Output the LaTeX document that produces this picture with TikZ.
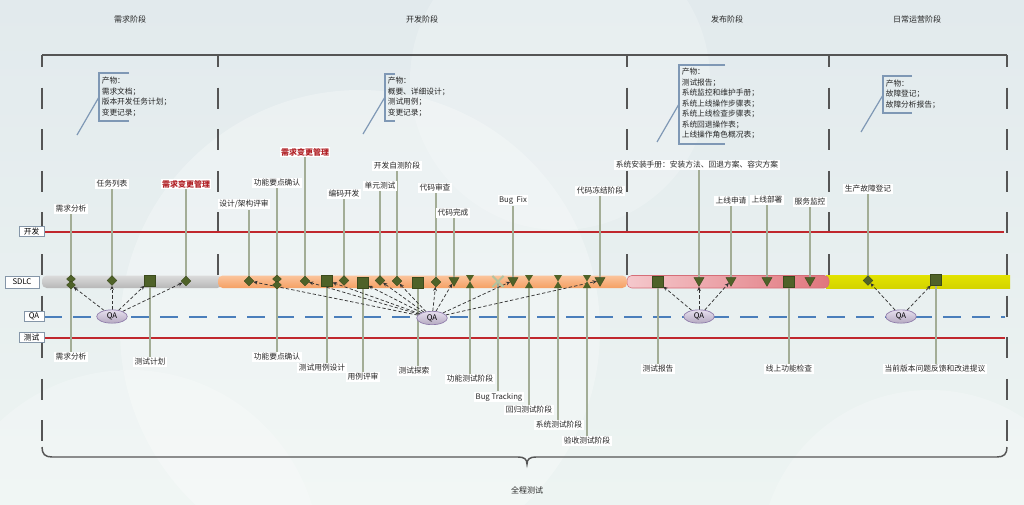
\documentclass[tikz,border=0pt]{standalone}
\usepackage{fontspec}
\setmainfont{Noto Sans CJK SC}
\usetikzlibrary{shapes.geometric,shapes.misc,arrows.meta}
\definecolor{bgtop}{HTML}{E2EAED}
\definecolor{bgbot}{HTML}{EDF4F2}
\definecolor{framec}{HTML}{555555}
\definecolor{devred}{HTML}{C0272D}
\definecolor{qablue}{HTML}{4A7EBB}
\definecolor{stemc}{HTML}{A3AD96}
\definecolor{mkc}{HTML}{4F6228}
\definecolor{mkd}{HTML}{3B4A1D}
\definecolor{xmc}{HTML}{B3C29E}
\definecolor{qaf}{HTML}{D5C8E3}
\definecolor{qab}{HTML}{8E7BAA}
\definecolor{brk}{HTML}{7F98B5}
\definecolor{rowb}{HTML}{8596A8}
\definecolor{redtxt}{HTML}{B01E23}
\definecolor{ylwtop}{HTML}{E2E200}
\definecolor{ylwmid}{HTML}{FFFF3C}
\definecolor{ylwbot}{HTML}{D4D400}
\newcommand\lblfont{\fontsize{5.8}{7}\selectfont}
\newcommand\callfont{\fontsize{5.8}{7.9}\selectfont}
\pgfdeclarelayer{bglayer}
\pgfdeclarelayer{midlayer}
\pgfsetlayers{bglayer,midlayer,main}
\begin{document}
\begin{tikzpicture}[x=0.75pt,y=-0.75pt,
  lbl/.style={fill=white,inner sep=1pt,font=\lblfont,text=black!85},
  redlbl/.style={fill=white,inner sep=1pt,font=\fontsize{6}{7}\selectfont\bfseries,text=redtxt},
  hdr/.style={font=\fontsize{6}{7}\selectfont,text=black!85},
  rowbox/.style={draw=rowb,fill=white,inner sep=0pt,minimum height=8pt,font=\lblfont,line width=0.6pt},
  stemline/.style={draw=stemc,line width=1.1pt},
  mk/.style={fill=mkc,draw=mkd,line width=0.3pt,inner sep=0pt},
  dia/.style={mk,diamond,minimum width=7.5pt,minimum height=7.5pt},
  ddia/.style={mk,diamond,minimum width=6.75pt,minimum height=6pt},
  sq/.style={mk,rectangle,minimum size=8pt},
  tri/.style={mk,regular polygon,regular polygon sides=3,shape border rotate=180,minimum size=8.7pt},
  hg/.style={rectangle,inner sep=0pt,minimum width=6pt,minimum height=9.75pt,
    path picture={\fill[mkc] (path picture bounding box.north west) -- (path picture bounding box.north east) -- (path picture bounding box.south west) -- (path picture bounding box.south east) -- cycle;}},
  xm/.style={cross out,draw=xmc,line width=1.4pt,minimum size=7pt,inner sep=0pt},
  qaell/.style={ellipse,draw=qab,top color=qaf!60!white,bottom color=qaf!85!black,minimum width=23pt,minimum height=10pt,inner sep=0pt,font=\lblfont,line width=0.5pt},
  qal/.style={draw=black!80,dash pattern=on 2.5pt off 1.6pt,line width=0.55pt,-{Stealth[length=3.2pt,width=2.8pt]}},
  frameline/.style={draw=framec,line width=1.1pt},
  vdashline/.style={draw=framec,line width=1.1pt,dash pattern=on 15.75pt off 15.45pt,dash phase=6.75pt},
  brkline/.style={draw=brk,line width=0.9pt},
  callout/.style={align=left,font=\callfont,inner sep=0pt,text=black!85},
  devline/.style={draw=devred,line width=1.5pt},
  qaline/.style={draw=qablue,line width=1.5pt,dash pattern=on 13.5pt off 8.25pt}
]
\useasboundingbox (0,0) rectangle (1024,504);

% ---------- headers ----------
\node[hdr] (h1) at (130,19) {需求阶段};
\node[hdr] (h2) at (422,19) {开发阶段};
\node[hdr] (h3) at (727,19) {发布阶段};
\node[hdr] (h4) at (917,19) {日常运营阶段};
\node[hdr] (h5) at (527,490) {全程测试};

% ---------- row boxes ----------
\node[rowbox,minimum width=18.75pt] (rdev) at (31.5,231.5) {开发};
\node[rowbox,minimum width=25.5pt,minimum height=9pt] (rsdlc) at (22,282) {SDLC};
\node[rowbox,minimum width=15pt] (rqa) at (34,316.5) {QA};
\node[rowbox,minimum width=18.75pt] (rtest) at (31.5,337.5) {测试};
\coordinate (devend) at (1004,231.5);
\coordinate (qaend) at (1005,316.5);
\coordinate (testend) at (1005,337.5);

% ---------- callouts ----------
\node[callout,anchor=west] (c1) at (101.5,97) {产物：\\需求文档；\\版本开发任务计划；\\变更记录；};
\node[callout,anchor=west] (c2) at (387.5,97) {产物：\\概要、详细设计；\\测试用例；\\变更记录；};
\node[callout,anchor=west] (c3) at (681.5,103.5) {产物：\\测试报告；\\系统监控和维护手册；\\系统上线操作步骤表；\\系统上线检查步骤表；\\系统回退操作表；\\上线操作角色概况表；};
\node[callout,anchor=west] (c4) at (885.5,94) {产物：\\故障登记；\\故障分析报告；};

% ---------- markers on SDLC bar ----------
\node[ddia] (m71) at (71,279) {};
\node[ddia] (m71b) at (71,285) {};
\node[dia] (m112) at (112,280.5) {};
\node[sq] (m150) at (150,280.5) {};
\node[dia] (m186) at (186,281) {};
\node[dia] (m249) at (249,281) {};
\node[ddia] (m277) at (277,279) {};
\node[ddia] (m277b) at (277,285) {};
\node[dia] (m305) at (305,281) {};
\node[sq] (m327) at (327,280.5) {};
\node[dia] (m344) at (344,280.5) {};
\node[sq] (m363) at (363,283) {};
\node[dia] (m380) at (380,280.5) {};
\node[dia] (m397) at (397,281) {};
\node[sq] (m418) at (418,283) {};
\node[dia] (m436) at (436,282) {};
\node[tri] (m454) at (454,280.5) {};
\node[hg] (m470) at (470,281.5) {};
\node[xm] (m498) at (498,281.5) {};
\node[tri] (m513) at (513,280.5) {};
\node[hg] (m529) at (529,281.5) {};
\node[hg] (m558) at (558,281.5) {};
\node[hg] (m587) at (587,281.5) {};
\node[tri] (m600) at (600,280.5) {};
\node[sq] (m658) at (658,282) {};
\node[tri] (m699) at (699,280.5) {};
\node[tri] (m731) at (731,280.5) {};
\node[tri] (m767) at (767,280.5) {};
\node[sq] (m789) at (789,281.5) {};
\node[tri] (m810) at (810,280.5) {};
\node[dia] (m868) at (868,280.5) {};
\node[sq] (m936) at (936,280) {};

% ---------- QA ellipses ----------
\node[qaell] (qa1) at (112,316.5) {QA};
\node[qaell] (qa2) at (432,318) {QA};
\node[qaell] (qa3) at (699,316.5) {QA};
\node[qaell] (qa4) at (901,316.5) {QA};

% ---------- top labels ----------
\node[lbl] (t71) at (71,209) {需求分析};
\node[lbl] (t112) at (112,184) {任务列表};
\node[redlbl] (t186) at (186,184) {需求变更管理};
\node[lbl] (t249) at (244,204) {设计/架构评审};
\node[lbl] (t277) at (277,183) {功能要点确认};
\node[redlbl] (t305) at (305,152) {需求变更管理};
\node[lbl] (t344) at (344,194) {编码开发};
\node[lbl] (t380) at (380,186) {单元测试};
\node[lbl] (t397) at (397,166) {开发自测阶段};
\node[lbl] (t436) at (435,188) {代码审查};
\node[lbl] (t454) at (453,213) {代码完成};
\node[lbl] (t513) at (513,200) {Bug\ \ Fix};
\node[lbl] (t600) at (600,191) {代码冻结阶段};
\node[lbl] (t699) at (697,165) {系统安装手册：安装方法、回退方案、容灾方案};
\node[lbl] (t731) at (731,201) {上线申请};
\node[lbl] (t767) at (767,200) {上线部署};
\node[lbl] (t810) at (810,202) {服务监控};
\node[lbl] (t868) at (868,189) {生产故障登记};

% ---------- bottom labels ----------
\node[lbl] (b71) at (71,357) {需求分析};
\node[lbl] (b150) at (150,362) {测试计划};
\node[lbl] (b277) at (277,357) {功能要点确认};
\node[lbl] (b327) at (322,368) {测试用例设计};
\node[lbl] (b363) at (363,377) {用例评审};
\node[lbl] (b418) at (414,371) {测试探索};
\node[lbl] (b470) at (470,379) {功能测试阶段};
\node[lbl] (b498) at (499,397) {Bug Tracking};
\node[lbl] (b529) at (529,410) {回归测试阶段};
\node[lbl] (b558) at (559,425) {系统测试阶段};
\node[lbl] (b587) at (587,441) {验收测试阶段};
\node[lbl] (b658) at (658,369) {测试报告};
\node[lbl] (b789) at (789,369) {线上功能检查};
\node[lbl] (b936) at (935,369) {当前版本问题反馈和改进提议};

% ================= background layer =================
\begin{pgfonlayer}{bglayer}
  \shade[top color=bgtop,bottom color=bgbot] (0,0) rectangle (1024,504);
  \begin{scope}
    \clip (0,0) rectangle (1024,504);
    \fill[white,opacity=0.28] (360,330) circle[radius=240];
    \fill[white,opacity=0.22] (130,560) circle[radius=190];
    \fill[white,opacity=0.2] (560,80) circle[radius=150];
    \fill[white,opacity=0.22] (930,560) circle[radius=170];
  \end{scope}
  % frame
  \draw[frameline] (42,55) -- (1007,55);
  \draw[vdashline] (42,55) -- (42,447);
  \draw[vdashline] (218,55) -- (218,276);
  \draw[vdashline] (627,55) -- (627,276);
  \draw[vdashline] (829,55) -- (829,276);
  \draw[vdashline] (1007,55) -- (1007,447);
  \draw[frameline] (42,447) .. controls (42,454) and (45,457) .. (52,457) -- (518,457)
     .. controls (524,457) and (527,459) .. (527,464)
     .. controls (527,459) and (530,457) .. (536,457) -- (997,457)
     .. controls (1004,457) and (1007,454) .. (1007,447);
  % row lines
  \draw[devline] (rdev.east) -- (devend);
  \draw[qaline] (rqa.east) -- (qaend);
  \draw[devline] (rtest.east) -- (testend);
  % SDLC bar
  \shade[top color=black!14,middle color=black!2,bottom color=black!28,rounded corners=3.5pt] (42,275.5) rectangle (222,288);
  \shade[top color=ylwtop,middle color=ylwmid,bottom color=ylwbot] (826,275.5) rectangle (1010,288);
  \shade[left color={rgb,255:red,245;green,200;blue,204},right color={rgb,255:red,224;green,118;blue,125},rounded corners=3.5pt,draw={rgb,255:red,214;green,110;blue,120},line width=0.4pt] (627,275.5) rectangle (829,288);
  \shade[top color={rgb,255:red,251;green,196;blue,156},bottom color={rgb,255:red,245;green,160;blue,100},rounded corners=3.5pt] (218,275.5) rectangle (627,288);
  % callout brackets
  \draw[brkline] (129,73) -- (99,73) -- (99,121) -- (129,121);
  \draw[brkline] (99,97) -- (77,135);
  \draw[brkline] (395,74) -- (385,74) -- (385,121) -- (395,121);
  \draw[brkline] (385,97) -- (363,134);
  \draw[brkline] (725,65) -- (679,65) -- (679,144) -- (725,144);
  \draw[brkline] (679,104) -- (657,142);
  \draw[brkline] (912,76) -- (883,76) -- (883,113) -- (912,113);
  \draw[brkline] (883,95) -- (861,132);
\end{pgfonlayer}

% ================= stems and QA links =================
\begin{pgfonlayer}{midlayer}
  % top stems
  \foreach \m/\t in {m71/t71,m112/t112,m186/t186,m249/t249,m277/t277,m305/t305,m344/t344,m380/t380,m397/t397,m436/t436,m454/t454,m513/t513,m600/t600,m699/t699,m731/t731,m767/t767,m810/t810,m868/t868}
    \draw[stemline] (\m.center) -- (\m.center |- \t.south);
  % bottom stems
  \foreach \m/\b in {m71b/b71,m150/b150,m277b/b277,m327/b327,m363/b363,m418/b418,m470/b470,m498/b498,m529/b529,m558/b558,m587/b587,m658/b658,m789/b789,m936/b936}
    \draw[stemline] (\m.center) -- (\m.center |- \b.north);
  % QA links
  \foreach \m in {m71b,m112,m150,m186}
    \draw[qal] (qa1) -- (\m);
  \foreach \m in {m249,m305,m327,m363,m380,m397,m436,m454,m513,m600}
    \draw[qal] (qa2) -- (\m);
  \foreach \m in {m658,m699,m731}
    \draw[qal] (qa3) -- (\m);
  \foreach \m in {m868,m936}
    \draw[qal] (qa4) -- (\m);
\end{pgfonlayer}
\end{tikzpicture}
\end{document}
